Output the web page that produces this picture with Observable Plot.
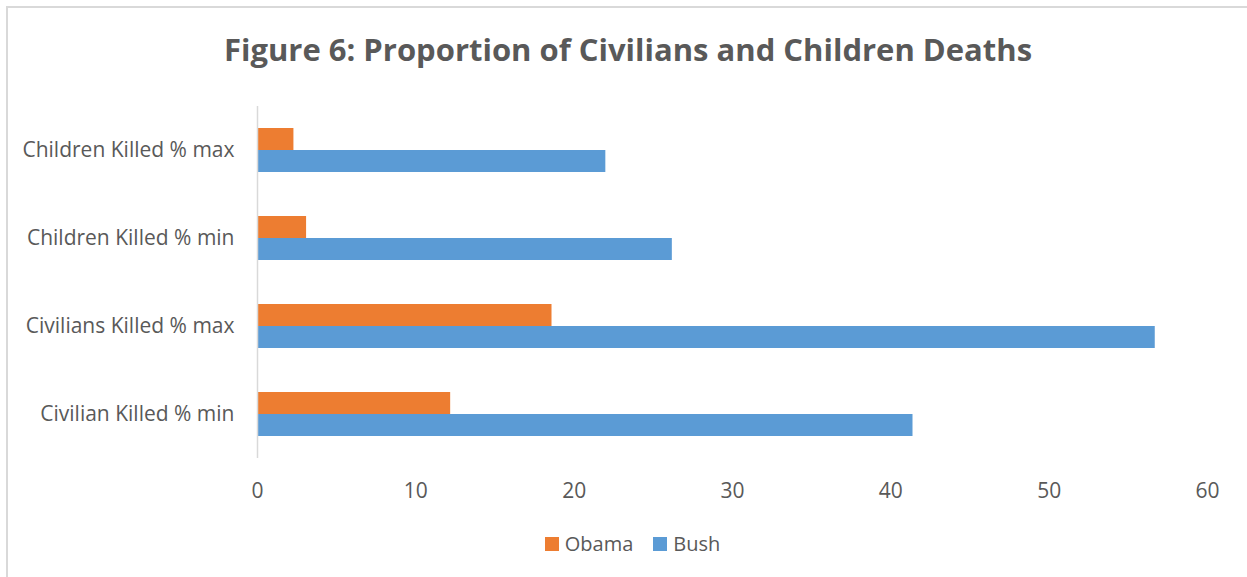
<!DOCTYPE html>
<html>
<head>
<meta charset="utf-8">
<script src="https://cdn.jsdelivr.net/npm/d3@7"></script>
<script src="https://cdn.jsdelivr.net/npm/@observablehq/plot@0.6"></script>
<style>
  html, body { margin: 0; padding: 0; background: #fff; overflow: hidden; }
  body { width: 1247px; height: 577px; position: relative; font-family: "Open Sans", sans-serif; color: #595959; }
  #frame { position: absolute; left: 6px; top: 6px; width: 1300px; height: 640px; border-left: 2px solid #d9d9d9; border-top: 2px solid #d9d9d9; box-sizing: border-box; }
  #title { position: absolute; left: 0; width: 1256px; top: 31px; text-align: center; font-weight: 700; font-size: 31px; line-height: 36px; color: #595959; }
  #chart { position: absolute; left: 0; top: 80px; }
  #legend { position: absolute; left: 0; width: 1265px; top: 532px; display: flex; justify-content: center; align-items: center; font-size: 20px; line-height: 24px; color: #595959; }
  .item { display: flex; align-items: center; margin: 0 10px; }
  .sw { width: 14px; height: 14px; margin-right: 6px; display: inline-block; }
</style>
</head>
<body>
<div id="frame"></div>
<div id="title">Figure 6: Proportion of Civilians and Children Deaths</div>
<div id="chart"></div>
<div id="legend"></div>
<script>
const categories = ["Children Killed % max", "Children Killed % min", "Civilians Killed % max", "Civilian Killed % min"];
const series = ["Obama", "Bush"];
const obama = [2.3, 3.1, 18.6, 12.2];
const bush = [22.0, 26.2, 56.7, 41.4];
const xTicks = [0, 10, 20, 30, 40, 50, 60];
const colors = ["#ED7D31", "#5B9BD5"];

const data = [];
categories.forEach((c, i) => {
  data.push({category: c, series: "Obama", value: obama[i]});
  data.push({category: c, series: "Bush", value: bush[i]});
});

const chart = Plot.plot({
  width: 1247,
  height: 429,
  marginLeft: 257,
  marginRight: 40,
  marginTop: 25,
  marginBottom: 50,
  style: {fontFamily: "'Open Sans', sans-serif", fontSize: "21px", color: "#595959", background: "transparent"},
  x: {domain: [0, 60], ticks: xTicks, label: null, tickSize: 0, tickPadding: 25},
  y: {domain: series, axis: null, paddingInner: 0, paddingOuter: 0.924},
  fy: {domain: categories, padding: 0, label: null, axis: "left", tickSize: 0, tickPadding: 23},
  color: {domain: series, range: colors},
  marks: [
    Plot.barX(data, {x: "value", y: "series", fy: "category", fill: "series"}),
    Plot.ruleX([0], {stroke: "#d9d9d9", strokeWidth: 1.5})
  ]
});
document.getElementById("chart").appendChild(chart);

const legend = document.getElementById("legend");
series.forEach((s, i) => {
  const item = document.createElement("div");
  item.className = "item";
  const sw = document.createElement("span");
  sw.className = "sw";
  sw.style.background = colors[i];
  const t = document.createElement("span");
  t.textContent = s;
  item.appendChild(sw);
  item.appendChild(t);
  legend.appendChild(item);
});
</script>
</body>
</html>
